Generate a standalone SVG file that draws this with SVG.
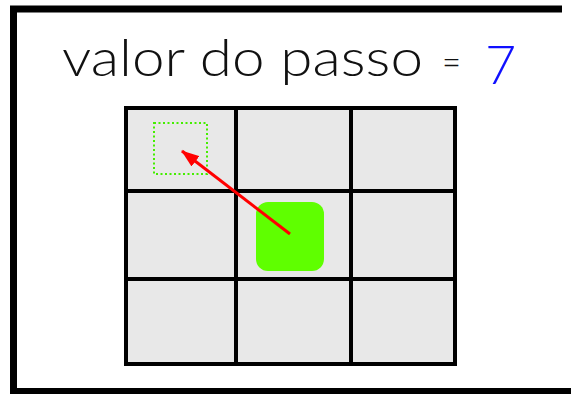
<svg xmlns="http://www.w3.org/2000/svg" width="571" height="394" viewBox="0 0 571 394">
<style>
.frame{fill:none;stroke:#000;stroke-width:7}
.cell{fill:#e8e8e8;stroke:none}
.grid{stroke:#000;stroke-width:4;fill:none}
.t{font-family:"Lato","Open Sans",sans-serif;font-weight:300}
</style>
<defs>
<marker id="ah" markerWidth="18" markerHeight="13" refX="17" refY="6.5" orient="auto" markerUnits="userSpaceOnUse">
<path d="M0,0 L18,6.5 L0,13 z" fill="#ff0000"/>
</marker>
</defs>
<rect width="571" height="394" fill="#fff"/>
<g id="frame">
<path class="frame" d="M562,9 H13.5 V391.5 H571"/>
</g>
<g id="title">
<text class="t" x="62" y="76" fill="#111" font-size="52" textLength="361" lengthAdjust="spacingAndGlyphs">valor do passo</text>
<text class="t" x="442" y="76" fill="#111" font-size="40" textLength="19" lengthAdjust="spacingAndGlyphs">=</text>
<text class="t" x="485" y="84" fill="#1010ff" font-size="54">7</text>
</g>
<g id="grid">
<rect class="cell" x="126" y="108" width="329" height="256"/>
<path class="grid" d="M126,108 H455 V364 H126 Z M236,108 V364 M351,108 V364 M126,191 H455 M126,279 H455"/>
</g>
<g id="target">
<rect x="154" y="123" width="53" height="51" fill="none" stroke="#44ee00" stroke-width="2" stroke-dasharray="2 2.5"/>
</g>
<g id="current">
<rect x="256" y="202" width="68" height="69" rx="12" fill="#5fff00"/>
</g>
<g id="connectors">
<line x1="290" y1="234" x2="182" y2="151" stroke="#ff0000" stroke-width="3" marker-end="url(#ah)"/>
</g>
</svg>
